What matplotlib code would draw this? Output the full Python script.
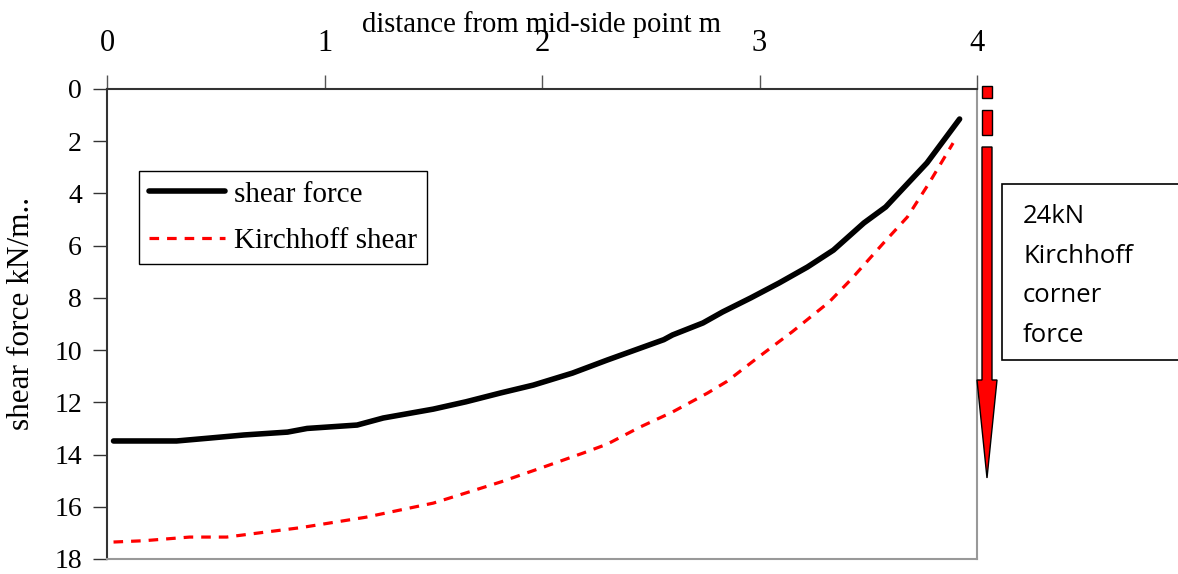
import matplotlib
matplotlib.use("Agg")
import matplotlib.pyplot as plt
from matplotlib.patches import Rectangle, Polygon

# ---------------------------
# data
# ---------------------------
x_shear = [0.03, 0.32, 0.47, 0.63, 0.83, 0.92, 1.15, 1.27, 1.50, 1.65, 1.81, 1.96,
           2.14, 2.30, 2.56, 2.60, 2.74, 2.83, 2.96, 3.09, 3.22, 3.34, 3.48, 3.58,
           3.77, 3.92]
shear_force = [13.48, 13.48, 13.37, 13.25, 13.14, 13.0, 12.87, 12.6, 12.26, 11.98,
               11.64, 11.34, 10.88, 10.38, 9.6, 9.42, 8.96, 8.54, 8.0, 7.43, 6.82,
               6.17, 5.13, 4.52, 2.83, 1.15]

x_kirch = [0.03, 0.17, 0.38, 0.55, 0.70, 0.89, 1.04, 1.19, 1.35, 1.50, 1.65, 1.81,
           2.0, 2.19, 2.30, 2.45, 2.60, 2.76, 2.85, 2.99, 3.15, 3.32, 3.42, 3.57,
           3.68, 3.78, 3.89]
kirchhoff_shear = [17.35, 17.3, 17.16, 17.16, 17.0, 16.8, 16.6, 16.4, 16.12, 15.86,
                   15.47, 15.05, 14.5, 13.94, 13.6, 12.95, 12.37, 11.65, 11.2, 10.3,
                   9.3, 8.16, 7.3, 5.9, 4.9, 3.6, 2.07]

x_ticks = [0, 1, 2, 3, 4]
y_ticks = [0, 2, 4, 6, 8, 10, 12, 14, 16, 18]
corner_text = "24kN\nKirchhoff\ncorner\nforce"

W, H = 1178, 574
serif = "Liberation Serif"

fig = plt.figure(figsize=(W / 100, H / 100), dpi=100)
ax = fig.add_axes([107 / W, 1 - 559 / H, 870 / W, 470 / H])

ax.plot(x_shear, shear_force, color="black", lw=4, solid_capstyle="round",
        solid_joinstyle="round", label="shear force")
ax.plot(x_kirch, kirchhoff_shear, color="red", lw=2.3, linestyle=(0, (3, 2.5)),
        label="Kirchhoff shear")

ax.set_xlim(0, 4)
ax.set_ylim(18, 0)
ax.set_xticks(x_ticks)
ax.set_yticks(y_ticks)
ax.xaxis.tick_top()
ax.xaxis.set_label_position("top")
ax.tick_params(axis="x", direction="out", length=10, width=1, color="#555555",
               pad=12, labelsize=22)
ax.tick_params(axis="y", direction="out", length=10, width=1, color="#333333",
               pad=8, labelsize=20)
for lab in ax.get_xticklabels() + ax.get_yticklabels():
    lab.set_fontfamily(serif)

ax.spines["left"].set_color("#333333")
ax.spines["top"].set_color("#333333")
ax.spines["right"].set_color("#999999")
ax.spines["bottom"].set_color("#999999")
for s in ax.spines.values():
    s.set_linewidth(1.5)

fig.text(541 / W, 1 - 25 / H, "distance from mid-side point m", ha="center",
         va="center", fontsize=20.6, family=serif)
fig.text(22 / W, 1 - 314 / H, "shear force kN/m..", rotation=90, ha="center",
         va="center", fontsize=22.5, family=serif)

leg = ax.legend(loc="upper left", bbox_to_anchor=(139 / W, 1 - 171 / H),
                bbox_transform=fig.transFigure, prop={"family": serif, "size": 21},
                handlelength=2.6, handletextpad=0.3, borderpad=0.35,
                labelspacing=0.68, borderaxespad=0, fancybox=False, framealpha=1)
leg.get_frame().set_edgecolor("black")
leg.get_frame().set_linewidth(1)

# corner force arrow (dashed red arrow outside the plot)
def px(x, y):
    return (x / W, 1 - y / H)

for y0, y1 in [(86, 98), (110, 135)]:
    fig.patches.append(Rectangle(px(982, y1), 10 / W, (y1 - y0) / H,
                                 transform=fig.transFigure, facecolor="red",
                                 edgecolor="black", lw=1))
arrow_pts = [px(982, 147), px(992, 147), px(992, 380), px(997, 380), px(987, 478),
             px(977, 380), px(982, 380)]
fig.patches.append(Polygon(arrow_pts, closed=True, transform=fig.transFigure,
                           facecolor="red", edgecolor="black", lw=1))

fig.patches.append(Rectangle(px(1002, 360), 180 / W, 176 / H, transform=fig.transFigure,
                             facecolor="white", edgecolor="black", lw=1.2))
fig.text(1023 / W, 1 - 276 / H, corner_text, ha="left", va="center", fontsize=18.5,
         family="Open Sans", linespacing=1.78)

plt.savefig("out.png", dpi=100)
